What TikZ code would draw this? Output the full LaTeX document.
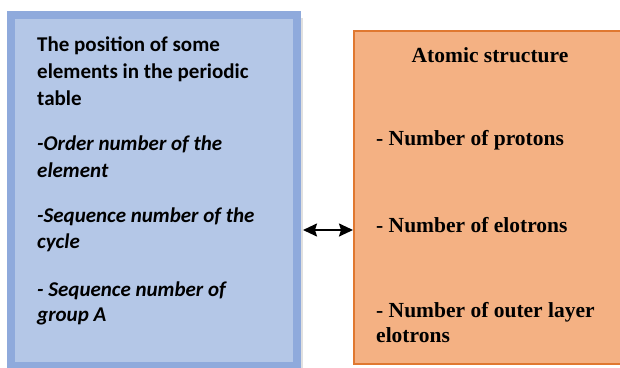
\documentclass[tikz,border=0pt]{standalone}
\usepackage{fontspec}
\setmainfont{Liberation Serif}
\newfontfamily\calfont{Carlito}
\usetikzlibrary{arrows.meta}
\definecolor{blueedge}{HTML}{8FAADC}
\definecolor{bluefill}{HTML}{B4C7E7}
\definecolor{orfill}{HTML}{F4B183}
\definecolor{oredge}{HTML}{E07830}
\tikzset{
  ltext/.style={anchor=base west, inner sep=0pt, font=\calfont\fontsize{21}{27}\selectfont\bfseries},
  litext/.style={anchor=base west, inner sep=0pt, font=\calfont\fontsize{21}{27}\selectfont\bfseries\itshape},
  rtext/.style={anchor=base west, inner sep=0pt, font=\fontsize{21.5}{25}\selectfont\bfseries},
  lbox/.style={draw=blueedge, fill=bluefill, line width=8pt},
  rbox/.style={draw=oredge, fill=orfill, line width=2pt},
  dbl/.style={line width=1.8pt, {Stealth[length=14pt,width=13pt,inset=2pt]}-{Stealth[length=14pt,width=13pt,inset=2pt]}},
}
\begin{document}
\begin{tikzpicture}[x=1pt,y=-1pt]
\useasboundingbox (0,0) rectangle (620,367);
\begin{scope}
\clip (0,0) rectangle (620,367);
\fill[black!12] (14,18) rectangle (303,372);
\draw[lbox] (11,15) rectangle (297,366);
\draw[rbox] (354,31) rectangle (622,364);
\end{scope}
\coordinate (lb) at (303,230);
\coordinate (rb) at (353,230);
\node[ltext] (t1) at (37,51) {The position of some};
\node[ltext] (t2) at (37,78) {elements in the periodic};
\node[ltext] (t3) at (37,105) {table};
\node[litext] (i1) at (37,150) {-Order number of the};
\node[litext] (i2) at (37,177) {element};
\node[litext] (i3) at (37,222) {-Sequence number of the};
\node[litext] (i4) at (37,248) {cycle};
\node[litext] (i5) at (37,296) {- Sequence number of};
\node[litext] (i6) at (37,321) {group A};
\node[rtext, anchor=base] (a0) at (490,62) {Atomic structure};
\node[rtext] (a1) at (376,145) {- Number of protons};
\node[rtext] (a2) at (376,232) {- Number of elotrons};
\node[rtext] (a3) at (376,317) {- Number of outer layer};
\node[rtext] (a4) at (376,342) {elotrons};
\draw[dbl] (lb) -- (rb);
\end{tikzpicture}
\end{document}
